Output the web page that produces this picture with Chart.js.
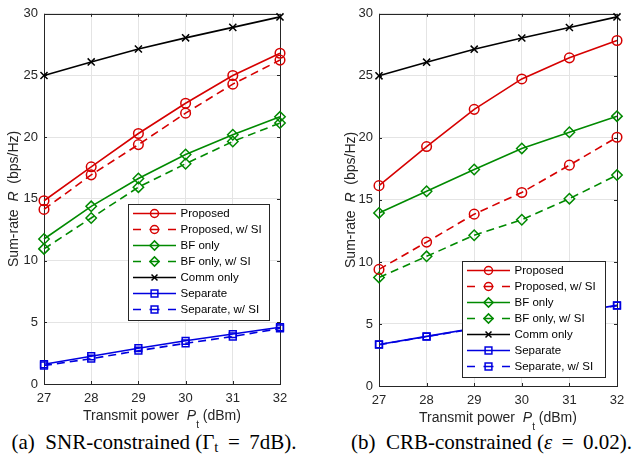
<!DOCTYPE html>
<html><head><meta charset="utf-8">
<script src="https://cdn.jsdelivr.net/npm/chart.js@4.4.1/dist/chart.umd.min.js"></script>
<style>
html,body{margin:0;padding:0;background:#fff;}
#wrap{position:relative;width:637px;height:461px;overflow:hidden;background:#fff;}
canvas{position:absolute;top:0;}
.cap{position:absolute;top:431px;font-family:"Liberation Serif","Times New Roman",serif;font-size:21px;line-height:22px;white-space:nowrap;text-align:center;color:#000;}
.cap sub{font-size:70%;vertical-align:-0.2em;line-height:0;}
</style></head>
<body>
<div id="wrap">
<canvas id="ca" width="318" height="430" style="left:0"></canvas>
<canvas id="cb" width="319" height="430" style="left:318px"></canvas>
<div class="cap" style="left:0;width:308px">(a)&nbsp; SNR-constrained (Γ<sub>t</sub>&thinsp; = &thinsp;7dB).</div>
<div class="cap" style="left:330px;width:323px">(b)&nbsp; CRB-constrained (<i>ε</i>&thinsp; = &thinsp;0.02).</div>
</div>
<script>
// ---------- data ----------
const powerDbm = [27, 28, 29, 30, 31, 32];
const yTickValues = [0, 5, 10, 15, 20, 25, 30];
const seriesLabels = ['Proposed', 'Proposed, w/ SI', 'BF only', 'BF only, w/ SI', 'Comm only', 'Separate', 'Separate, w/ SI'];

// (a) SNR-constrained
const snrProposed   = [14.85, 17.6, 20.3, 22.75, 25.0, 26.8];
const snrProposedSI = [14.15, 16.95, 19.4, 21.95, 24.3, 26.25];
const snrBF         = [11.75, 14.4, 16.65, 18.6, 20.2, 21.65];
const snrBFSI       = [10.95, 13.45, 15.95, 17.85, 19.65, 21.15];
const snrComm       = [25.0, 26.1, 27.15, 28.05, 28.9, 29.75];
const snrSep        = [1.6, 2.25, 2.9, 3.5, 4.05, 4.6];
const snrSepSI      = [1.5, 2.05, 2.7, 3.3, 3.85, 4.5];

// (b) CRB-constrained
const crbProposed   = [16.15, 19.3, 22.3, 24.75, 26.45, 27.85];
const crbProposedSI = [9.4, 11.6, 13.85, 15.6, 17.8, 20.05];
const crbBF         = [13.95, 15.7, 17.45, 19.15, 20.45, 21.75];
const crbBFSI       = [8.75, 10.45, 12.15, 13.4, 15.1, 17.0];
const crbComm       = [25.0, 26.1, 27.15, 28.05, 28.9, 29.75];
const crbSep        = [3.35, 4.0, 4.65, 5.3, 5.9, 6.5];
const crbSepSI      = [3.33, 3.98, 4.62, 5.27, 5.87, 6.48];

// ---------- styles ----------
const RED = '#d60000', GREEN = '#008a00', BLUE = '#0000e0', BLACK = '#000000';
const seriesStyles = [
  {color: RED,   dash: false, marker: 'circle',   r: 4.8, lr: 4},
  {color: RED,   dash: true,  marker: 'circle',   r: 4.8, lr: 4},
  {color: GREEN, dash: false, marker: 'rectRot',  r: 5.2, lr: 4.6},
  {color: GREEN, dash: true,  marker: 'rectRot',  r: 5.2, lr: 4.6},
  {color: BLACK, dash: false, marker: 'crossRot', r: 5,   lr: 4.2},
  {color: BLUE,  dash: false, marker: 'rect',     r: 4.8, lr: 4.8},
  {color: BLUE,  dash: true,  marker: 'rect',     r: 4.8, lr: 4.8}
];
const SANS = '"Liberation Sans", Arial, Helvetica, sans-serif';
const AXC = '#262626';

function makeDatasets(values) {
  return values.map((v, i) => {
    const st = seriesStyles[i];
    return {
      label: seriesLabels[i],
      data: powerDbm.map((x, j) => ({x: x, y: v[j]})),
      borderColor: st.color,
      backgroundColor: 'rgba(0,0,0,0)',
      borderWidth: 1.6,
      borderDash: st.dash ? [8, 5] : [],
      pointStyle: st.marker,
      pointRadius: st.r,
      pointHoverRadius: st.r,
      pointBorderWidth: 1.5,
      pointBorderColor: st.color,
      pointBackgroundColor: 'rgba(0,0,0,0)',
      tension: 0,
      clip: false
    };
  });
}

function drawMarker(ctx, style, x, y, r) {
  ctx.beginPath();
  if (style === 'circle') { ctx.arc(x, y, r, 0, 2 * Math.PI); }
  else if (style === 'rectRot') { ctx.moveTo(x - r, y); ctx.lineTo(x, y - r); ctx.lineTo(x + r, y); ctx.lineTo(x, y + r); ctx.closePath(); }
  else if (style === 'rect') { const s = r * Math.SQRT1_2; ctx.rect(x - s, y - s, 2 * s, 2 * s); }
  else if (style === 'crossRot') { const c = r * Math.SQRT1_2; ctx.moveTo(x - c, y - c); ctx.lineTo(x + c, y + c); ctx.moveTo(x + c, y - c); ctx.lineTo(x - c, y + c); }
  ctx.stroke();
}

function drawParts(ctx, parts, cx, by) {
  let total = 0;
  parts.forEach(p => { ctx.font = p.font; p.w = ctx.measureText(p.text).width; total += p.w; });
  let x = cx - total / 2;
  parts.forEach(p => { ctx.font = p.font; ctx.fillText(p.text, x, by + (p.dy || 0)); x += p.w; });
}

const decoPlugin = {
  id: 'deco',
  beforeDatasetsDraw(chart, args, opts) {
    const ctx = chart.ctx, a = chart.chartArea;
    const xs = chart.scales.x, ys = chart.scales.y;
    ctx.save();
    ctx.strokeStyle = AXC; ctx.lineWidth = 1;
    ctx.strokeRect(Math.round(a.left) + 0.5, Math.round(a.top) + 0.5, Math.round(a.right - a.left), Math.round(a.bottom - a.top));
    ctx.beginPath();
    powerDbm.forEach(v => {
      const px = Math.round(xs.getPixelForValue(v)) + 0.5;
      ctx.moveTo(px, a.bottom); ctx.lineTo(px, a.bottom - 3);
      ctx.moveTo(px, a.top); ctx.lineTo(px, a.top + 3);
    });
    yTickValues.forEach(v => {
      const py = Math.round(ys.getPixelForValue(v)) + 0.5;
      ctx.moveTo(a.left, py); ctx.lineTo(a.left + 3, py);
      ctx.moveTo(a.right, py); ctx.lineTo(a.right - 3, py);
    });
    ctx.stroke();
    ctx.restore();
  },
  afterDraw(chart, args, opts) {
    const ctx = chart.ctx, a = chart.chartArea;
    ctx.save();
    // axis titles
    ctx.fillStyle = AXC;
    ctx.textBaseline = 'alphabetic';
    ctx.textAlign = 'left';
    const fN = '14px ' + SANS, fI = 'italic 14px ' + SANS, fS = '10px ' + SANS;
    drawParts(ctx, [
      {text: 'Transmit power  ', font: fN},
      {text: 'P', font: fI},
      {text: 't', font: fS, dy: 8},
      {text: ' (dBm)', font: fN}
    ], (a.left + a.right) / 2, opts.xTitleY);
    ctx.save();
    ctx.translate(opts.yTitleX, (a.top + a.bottom) / 2);
    ctx.rotate(-Math.PI / 2);
    drawParts(ctx, [
      {text: 'Sum-rate  ', font: fN},
      {text: 'R', font: fI},
      {text: '  (bps/Hz)', font: fN}
    ], 0, 0);
    ctx.restore();

    // legend
    const L = opts.legend;
    const bx = Math.round(a.right - L.rightGap - L.w), by = Math.round(a.top + L.top);
    ctx.fillStyle = '#fff';
    ctx.fillRect(bx, by, L.w, L.h);
    ctx.strokeStyle = AXC; ctx.lineWidth = 1;
    ctx.strokeRect(bx + 0.5, by + 0.5, L.w, L.h);
    ctx.font = '11.5px ' + SANS;
    ctx.textBaseline = 'middle';
    seriesLabels.forEach((lab, i) => {
      const st = seriesStyles[i];
      const cy = by + 9.5 + i * 16;
      const x0 = bx + 5, x1 = bx + 48, mx = bx + 26.5;
      ctx.strokeStyle = st.color;
      ctx.lineWidth = 1.6;
      ctx.setLineDash([]);
      ctx.beginPath();
      if (st.dash) {
        ctx.moveTo(x0, cy); ctx.lineTo(x0 + 8, cy);
        ctx.moveTo(mx - 5, cy); ctx.lineTo(mx + 5, cy);
        ctx.moveTo(x1 - 8, cy); ctx.lineTo(x1, cy);
      } else {
        ctx.moveTo(x0, cy); ctx.lineTo(x1, cy);
      }
      ctx.stroke();
      ctx.lineWidth = 1.5;
      drawMarker(ctx, st.marker, mx, cy, st.lr);
      ctx.fillStyle = '#000';
      ctx.fillText(lab, bx + 52.5, cy + 0.5);
    });
    ctx.restore();
  }
};

function makeChart(id, values, geom) {
  return new Chart(document.getElementById(id), {
    type: 'line',
    data: {datasets: makeDatasets(values)},
    options: {
      responsive: false,
      animation: false,
      events: [],
      layout: {padding: {left: 0, right: geom.padRight, top: geom.padTop, bottom: 0}},
      scales: {
        x: {
          type: 'linear', min: 27, max: 32,
          afterBuildTicks: s => { s.ticks = powerDbm.map(v => ({value: v})); },
          afterFit: s => { s.height = geom.xHeight; },
          ticks: {font: {family: SANS, size: 13}, color: AXC, padding: 7, maxRotation: 0, autoSkip: false},
          grid: {color: '#e4e4e4', drawTicks: false, lineWidth: 1},
          border: {display: false}
        },
        y: {
          type: 'linear', min: 0, max: 30,
          afterBuildTicks: s => { s.ticks = yTickValues.map(v => ({value: v})); },
          afterFit: s => { s.width = geom.yWidth; },
          ticks: {font: {family: SANS, size: 13}, color: AXC, padding: 6},
          grid: {color: '#e4e4e4', drawTicks: false, lineWidth: 1},
          border: {display: false}
        }
      },
      plugins: {
        legend: {display: false},
        tooltip: {enabled: false},
        deco: {xTitleY: geom.xTitleY, yTitleX: geom.yTitleX, legend: geom.legend}
      }
    },
    plugins: [decoPlugin]
  });
}

makeChart('ca', [snrProposed, snrProposedSI, snrBF, snrBFSI, snrComm, snrSep, snrSepSI],
  {padRight: 38, padTop: 7, xHeight: 46, yWidth: 44, xTitleY: 420, yTitleX: 17.5,
   legend: {rightGap: 11, top: 190, w: 141, h: 116}});
makeChart('cb', [crbProposed, crbProposedSI, crbBF, crbBFSI, crbComm, crbSep, crbSepSI],
  {padRight: 20, padTop: 5, xHeight: 44, yWidth: 61, xTitleY: 422, yTitleX: 36.5,
   legend: {rightGap: 12, top: 247, w: 143, h: 116}});
</script>
</body></html>
